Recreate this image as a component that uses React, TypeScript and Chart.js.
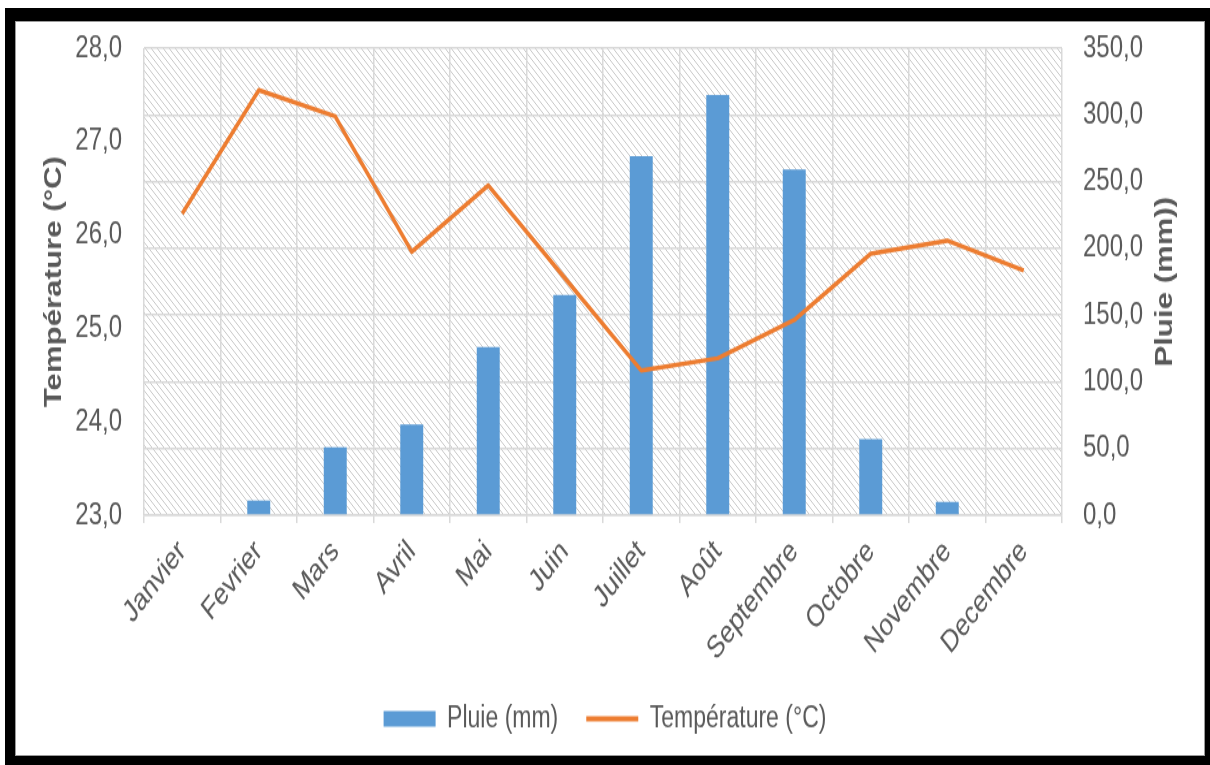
import React, { useEffect, useRef } from "react";
import { Chart, registerables } from "chart.js";

Chart.register(...registerables);

// Monthly climate normals: rainfall (bars, right axis) and temperature (line, left axis)
const MONTHS = [
  "Janvier", "Fevrier", "Mars", "Avril", "Mai", "Juin",
  "Juillet", "Août", "Septembre", "Octobre", "Novembre", "Decembre",
];
const RAIN_MM = [0, 11, 51, 68, 126, 165, 269, 315, 259, 57, 10, 0];
const TEMP_C = [26.23, 27.55, 27.27, 25.82, 26.53, 25.54, 24.55, 24.68, 25.09, 25.8, 25.94, 25.62];

const TEMP_AXIS = { min: 23, max: 28, step: 1 };
const RAIN_AXIS = { min: 0, max: 350, step: 50 };

const RAIN_LABEL = "Pluie (mm)";
const TEMP_LABEL = "Température (°C)";
const LEFT_TITLE = "Température (°C)";
const RIGHT_TITLE = "Pluie (mm))";

const BAR_COLOR = "#5B9BD5";
const LINE_COLOR = "#ED7D31";
const GRID_COLOR = "#D9D9D9";
const TEXT_COLOR = "#595959";
const FONT_FAMILY = '"Liberation Sans", Arial, Helvetica, sans-serif';

// drawing surface (stretched vertically to the page height by CSS)
const CANVAS_W = 1210;
const CANVAS_H = 588;

const fmt = (v: number | string) => Number(v).toFixed(1).replace(".", ",");

// Diagonal hatch behind the plot area
const hatchPlugin = {
  id: "plotHatch",
  beforeDraw(chart: any) {
    const { ctx, chartArea: a } = chart;
    if (!a) return;
    const s = 6;
    const tile = document.createElement("canvas");
    tile.width = s;
    tile.height = s;
    const t = tile.getContext("2d")!;
    t.fillStyle = "#FFFFFF";
    t.fillRect(0, 0, s, s);
    t.strokeStyle = "#C9C9C9";
    t.lineWidth = 1;
    t.beginPath();
    t.moveTo(-1, -1);
    t.lineTo(s + 1, s + 1);
    t.moveTo(-1, s - 1);
    t.lineTo(1, s + 1);
    t.moveTo(s - 1, -1);
    t.lineTo(s + 1, 1);
    t.stroke();
    ctx.save();
    ctx.fillStyle = ctx.createPattern(tile, "repeat");
    ctx.fillRect(a.left, a.top, a.right - a.left, a.bottom - a.top);
    ctx.restore();
  },
};

// Both axis titles read bottom-to-top
const axisTitlePlugin = {
  id: "axisTitles",
  afterDraw(chart: any) {
    const { ctx, chartArea: a } = chart;
    const cy = (a.top + a.bottom) / 2;
    ctx.save();
    ctx.fillStyle = TEXT_COLOR;
    ctx.font = `bold 24px ${FONT_FAMILY}`;
    ctx.textAlign = "center";
    ctx.textBaseline = "middle";
    ctx.save();
    ctx.translate(54, cy);
    ctx.rotate(-Math.PI / 2);
    ctx.fillText(LEFT_TITLE, 0, 0);
    ctx.restore();
    ctx.save();
    ctx.translate(1165, cy);
    ctx.rotate(-Math.PI / 2);
    ctx.fillText(RIGHT_TITLE, 0, 0);
    ctx.restore();
    ctx.restore();
  },
};

export default function App() {
  const canvasRef = useRef<HTMLCanvasElement | null>(null);

  useEffect(() => {
    const canvas = canvasRef.current;
    if (!canvas) return;
    const chart = new Chart(canvas, {
      type: "bar",
      data: {
        labels: MONTHS,
        datasets: [
          {
            type: "bar",
            label: RAIN_LABEL,
            data: RAIN_MM,
            yAxisID: "y1",
            backgroundColor: BAR_COLOR,
            borderWidth: 0,
            barPercentage: 0.3,
            categoryPercentage: 1,
            order: 2,
          },
          {
            type: "line",
            label: TEMP_LABEL,
            data: TEMP_C,
            yAxisID: "y",
            borderColor: LINE_COLOR,
            backgroundColor: LINE_COLOR,
            borderWidth: 3.5,
            borderJoinStyle: "round",
            pointRadius: 0,
            tension: 0,
            order: 1,
          },
        ],
      } as any,
      options: {
        responsive: false,
        maintainAspectRatio: false,
        animation: false,
        devicePixelRatio: 1,
        layout: { padding: { top: 37, left: 0, right: 0, bottom: 14 } },
        scales: {
          x: {
            offset: true,
            grid: {
              offset: true,
              color: GRID_COLOR,
              lineWidth: 1.5,
              drawTicks: true,
              tickLength: 6,
            },
            border: { display: true, color: GRID_COLOR, width: 1.5 },
            ticks: {
              color: TEXT_COLOR,
              font: { family: FONT_FAMILY, size: 24 },
              minRotation: 45,
              maxRotation: 45,
              autoSkip: false,
              padding: 8,
            },
            afterFit: (scale: any) => {
              scale.height = 117;
            },
          },
          y: {
            position: "left",
            min: TEMP_AXIS.min,
            max: TEMP_AXIS.max,
            grid: { display: false, drawTicks: false },
            border: { display: false },
            ticks: {
              stepSize: TEMP_AXIS.step,
              color: TEXT_COLOR,
              font: { family: FONT_FAMILY, size: 24 },
              padding: 22,
              callback: (v: any) => fmt(v),
            },
            afterFit: (scale: any) => {
              scale.width = 144;
            },
          },
          y1: {
            position: "right",
            min: RAIN_AXIS.min,
            max: RAIN_AXIS.max,
            grid: { display: true, color: GRID_COLOR, lineWidth: 1.5, drawTicks: false },
            border: { display: false },
            ticks: {
              stepSize: RAIN_AXIS.step,
              color: TEXT_COLOR,
              font: { family: FONT_FAMILY, size: 24 },
              padding: 21,
              callback: (v: any) => fmt(v),
            },
            afterFit: (scale: any) => {
              scale.width = 148;
            },
          },
        },
        plugins: {
          tooltip: { enabled: false },
          legend: {
            position: "bottom",
            labels: {
              color: TEXT_COLOR,
              font: { family: FONT_FAMILY, size: 23 },
              usePointStyle: true,
              pointStyleWidth: 52,
              boxHeight: 12,
              padding: 28,
              sort: (a: any, b: any) => a.datasetIndex - b.datasetIndex,
              generateLabels: (c: any) =>
                Chart.defaults.plugins.legend.labels
                  .generateLabels(c)
                  .map((item: any) =>
                    item.datasetIndex === 0
                      ? { ...item, pointStyle: "rect", lineWidth: 0 }
                      : {
                          ...item,
                          pointStyle: "line",
                          lineWidth: 4,
                          strokeStyle: LINE_COLOR,
                          lineCap: "butt",
                        }
                  ),
            },
          },
        },
      } as any,
      plugins: [hatchPlugin, axisTitlePlugin],
    });
    return () => chart.destroy();
  }, []);

  return (
    <div
      style={{
        position: "fixed",
        left: 0,
        top: 0,
        width: 1210,
        height: 765,
        background: "#FFFFFF",
        overflow: "hidden",
      }}
    >
      <div
        style={{
          position: "absolute",
          left: 5,
          top: 8,
          width: 1205,
          height: 757,
          background: "#000000",
        }}
      />
      <div
        style={{
          position: "absolute",
          left: 15,
          top: 21,
          width: 1190,
          height: 735,
          background: "#FFFFFF",
          border: "1px solid #9A9A9A",
          boxSizing: "border-box",
        }}
      />
      <canvas
        ref={canvasRef}
        width={CANVAS_W}
        height={CANVAS_H}
        style={{ position: "absolute", left: 0, top: 0, width: "1210px", height: "765px" }}
      />
    </div>
  );
}
